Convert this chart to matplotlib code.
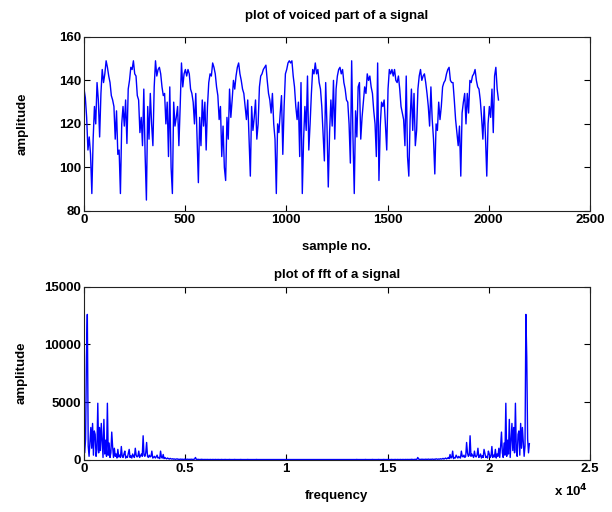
import numpy as np
import matplotlib
matplotlib.use("Agg")
import matplotlib.pyplot as plt
from matplotlib.ticker import FuncFormatter

plt.rcParams['font.family'] = ['Liberation Sans Narrow', 'Liberation Sans', 'DejaVu Sans']
plt.rcParams['font.weight'] = 'bold'
plt.rcParams['font.size'] = 9.5

# voiced segment, amplitude (2048 samples, thinned)
voiced = [
    136, 132, 123, 108, 114, 106, 88, 113, 128, 120, 139, 131, 114, 134, 145, 139,
    143, 149, 146, 142, 139, 133, 131, 128, 113, 126, 106, 108, 88, 120, 128, 119,
    131, 111, 136, 140, 146, 145, 149, 143, 142, 133, 131, 116, 123, 110, 136, 106,
    85, 128, 113, 134, 120, 110, 137, 149, 142, 145, 146, 143, 137, 133, 134, 120,
    130, 105, 137, 100, 88, 130, 119, 123, 128, 110, 128, 148, 137, 143, 145, 142,
    145, 143, 136, 134, 130, 120, 134, 113, 93, 123, 110, 131, 119, 130, 108, 128,
    139, 143, 142, 148, 146, 143, 137, 133, 122, 128, 105, 119, 100, 94, 123, 113,
    136, 123, 131, 140, 136, 142, 146, 148, 143, 140, 136, 134, 128, 122, 131, 113,
    96, 128, 117, 123, 131, 113, 120, 137, 142, 143, 145, 146, 147, 140, 134, 131,
    125, 134, 120, 113, 88, 120, 116, 125, 133, 106, 128, 143, 145, 148, 149,
    148, 149, 142, 137, 128, 122, 130, 105, 139, 88, 113, 128, 117, 142, 108, 120,
    134, 145, 143, 148, 143, 145, 139, 136, 128, 116, 103, 139, 119, 91, 116, 131,
    119, 140, 113, 136, 142, 145, 146, 143, 145, 139, 136, 131, 130, 120, 102, 149,
    114, 88, 126, 114, 137, 139, 113, 123, 130, 137, 134, 143, 140, 142, 137, 134,
    126, 120, 105, 148, 94, 119, 130, 128, 131, 119, 108, 136, 145, 143, 145, 142,
    145, 140, 139, 142, 136, 128, 125, 122, 110, 142, 105, 96, 122, 136, 117, 134,
    110, 117, 136, 142, 145, 140, 142, 143, 139, 134, 128, 119, 137, 122, 113, 97,
    120, 117, 130, 122, 128, 137, 139, 140, 143, 145, 146, 140, 139, 139, 131, 122,
    116, 110, 119, 96, 125, 130, 134, 120, 134, 125, 140, 139, 142, 143, 145, 140,
    137, 136, 131, 123, 113, 128, 114, 96, 120, 128, 123, 136, 116, 142, 146, 136,
    131,
]

# magnitude of the fft, lower half (0 .. fs/2, 256 bins)
fft_half = [
    1400, 600, 1800, 8900, 12600, 1200, 300, 1500, 2800, 1000, 3150, 400, 2500, 2200, 300, 900,
    4900, 600, 2800, 800, 3150, 1600, 200, 3500, 500, 1700, 300, 4900, 400, 1450, 200, 600,
    2400, 1150, 200, 1000, 300, 500, 150, 900, 250, 400, 200, 1150, 300, 200, 500, 750,
    150, 300, 200, 550, 900, 200, 350, 150, 500, 300, 200, 1000, 400, 250, 300, 750,
    200, 350, 500, 300, 2080, 400, 300, 600, 1500, 300, 200, 400, 250, 300, 750, 150,
    200, 300, 150, 250, 400, 150, 200, 100, 750, 200, 150, 460, 100, 200, 120, 80,
    150, 100, 60, 120, 80, 60, 90, 50, 70, 40, 60, 80, 40, 50, 30, 60,
    40, 50, 30, 40, 60, 30, 40, 50, 30, 40, 30, 50, 40, 30, 40, 60,
    200, 40, 30, 40, 30, 20, 30, 40, 30, 20, 30, 20, 30, 20, 30, 20,
    20, 30, 20, 20, 30, 20, 20, 30, 20, 20, 30, 20, 20, 20, 30, 20,
    20, 20, 30, 20, 20, 20, 20, 30, 20, 20, 20, 20, 20, 30, 20, 20,
    20, 20, 20, 20, 30, 20, 20, 20, 20, 20, 20, 20, 30, 20, 20, 20,
    20, 20, 20, 20, 20, 20, 30, 20, 20, 20, 20, 20, 20, 20, 20, 20,
    20, 20, 20, 20, 20, 20, 20, 20, 20, 20, 20, 20, 20, 20, 20, 20,
    20, 20, 20, 20, 20, 20, 20, 20, 20, 20, 20, 20, 20, 20, 20, 20,
    20, 20, 20, 20, 20, 20, 20, 20, 20, 20, 20, 20, 20, 20, 20, 20,
]

n_samples = 2048
fs = 22050.0

def style_axes(ax):
    ax.tick_params(direction='in', top=True, right=True, length=4, width=0.8,
                   labelsize=9.5, pad=2)
    for s in ax.spines.values():
        s.set_linewidth(0.8)
        s.set_color('#222222')

fig = plt.figure(figsize=(6.12, 5.12), dpi=100)

ax1 = fig.add_axes([0.137, 0.588, 0.827, 0.340])
x = np.linspace(1, n_samples, len(voiced))
ax1.plot(x, voiced, color='#0000ff', lw=1.0)
ax1.set_xlim(0, 2500)
ax1.set_ylim(80, 160)
ax1.set_xticks(np.arange(0, 2501, 500))
ax1.set_yticks(np.arange(80, 161, 20))
ax1.set_title('plot of voiced part of a signal', fontsize=9.5, fontweight='bold', pad=13)
ax1.set_xlabel('sample no.', fontsize=9.5, fontweight='bold', labelpad=11)
ax1.set_ylabel('amplitude', fontsize=9.5, fontweight='bold', labelpad=22)
style_axes(ax1)

ax2 = fig.add_axes([0.137, 0.102, 0.827, 0.338])
half = np.array(fft_half, dtype=float)
spec = np.concatenate([half, half[::-1]])
f = np.arange(len(spec)) * fs / len(spec)
ax2.plot(f, spec, color='#0000ff', lw=1.0)
ax2.set_xlim(0, 25000)
ax2.set_ylim(0, 15000)
ax2.set_xticks(np.arange(0, 25001, 5000))
ax2.xaxis.set_major_formatter(FuncFormatter(lambda v, p: '%g' % (v / 1e4)))
ax2.set_yticks(np.arange(0, 15001, 5000))
ax2.set_title('plot of fft of a signal', fontsize=9.5, fontweight='bold', pad=6)
ax2.set_xlabel('frequency', fontsize=9.5, fontweight='bold', labelpad=11)
ax2.set_ylabel('amplitude', fontsize=9.5, fontweight='bold', labelpad=12)
style_axes(ax2)

fig.text(0.905, 0.03, r'x 10$^{\mathbf{4}}$', fontsize=9.5, fontweight='bold')

fig.savefig('out.png', dpi=100)
